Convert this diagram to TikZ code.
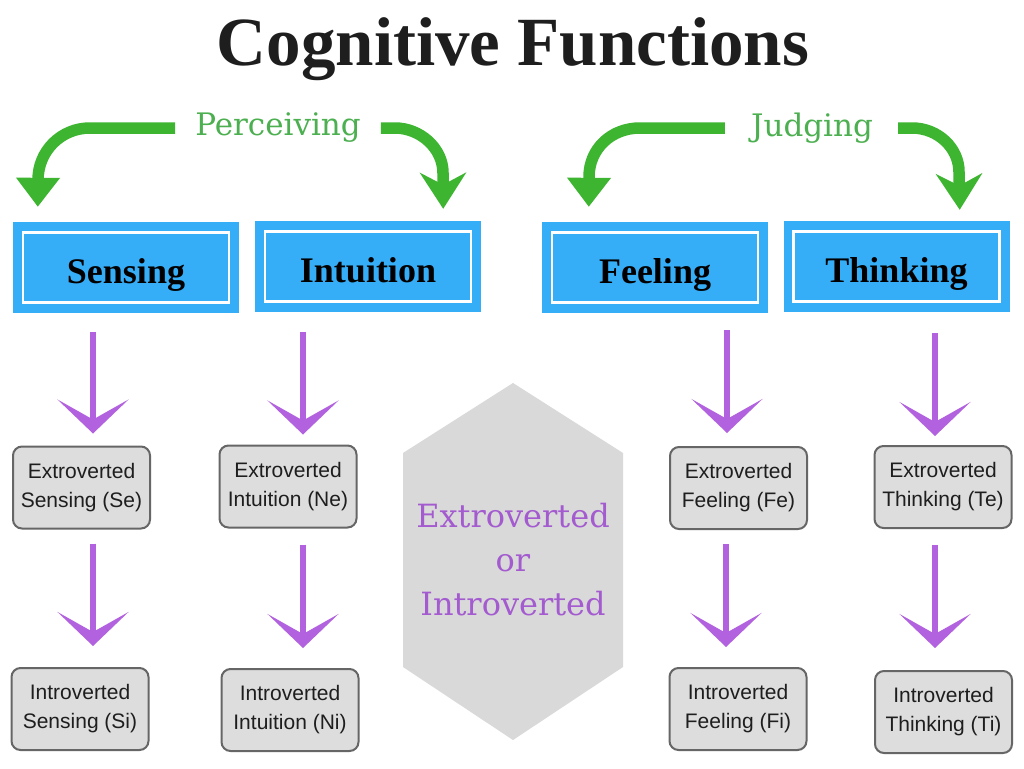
\documentclass[tikz,border=0pt]{standalone}
\usepackage{fontspec}
\setmainfont{Liberation Serif}
\newfontfamily\dejaserif{DejaVu Serif}
\newfontfamily\arialfont{Liberation Sans}
\usetikzlibrary{arrows.meta}

\definecolor{boxblue}{HTML}{36AEF7}
\definecolor{leafgreen}{HTML}{3DB531}
\definecolor{labelgreen}{HTML}{4CAF50}
\definecolor{lilac}{HTML}{B262DE}
\definecolor{lilactext}{HTML}{A35BCF}
\definecolor{boxgray}{HTML}{DDDDDD}
\definecolor{edgegray}{HTML}{666666}
\definecolor{hexgray}{HTML}{D9D9D9}
\definecolor{inkblack}{HTML}{1E1E1E}

\begin{document}
\begin{tikzpicture}[x=1pt,y=-1pt,
    kind/.style={fill=boxblue, minimum width=226pt, minimum height=91pt, inner sep=0pt,
        font=\fontsize{36}{40}\selectfont\bfseries, text=black, text height=32pt, text depth=0pt,
        path picture={\draw[white,line width=2.5pt] ([xshift=10pt,yshift=-10.5pt]path picture bounding box.north west) rectangle ([xshift=-10pt,yshift=10.5pt]path picture bounding box.south east);}},
    func/.style={draw=edgegray, line width=2pt, fill=boxgray, rounded corners=9pt,
        minimum width=137pt, minimum height=82pt, align=center, inner sep=0pt,
        font=\arialfont\fontsize{21}{29}\selectfont, text=inkblack},
    group/.style={text=labelgreen, font=\dejaserif\fontsize{31}{36}\selectfont, inner sep=0pt},
    greenarrow/.style={draw=leafgreen, line width=11.5pt, -{Triangle[length=29pt,width=42pt]}},
    greenhook/.style={draw=leafgreen, line width=11.5pt, -{Stealth[length=36pt,width=46pt,inset=12pt]}},
    purplearrow/.style={draw=lilac, line width=6pt, -{Stealth[length=34pt,width=71pt,inset=20pt]}}]

\fill[white] (0,0) rectangle (1024,768);
\useasboundingbox (0,0) rectangle (1024,768);

% title
\node[font=\fontsize{69}{80}\selectfont\bfseries, text=inkblack, anchor=base, inner sep=0pt] (title) at (513,65) {Cognitive Functions};

% groups
\node[group] (perc) at (278,128) {Perceiving};
\node[group] (judg) at (812,128) {Judging};

% functions
\node[kind] (sen) at (126,267.5) {Sensing};
\node[kind] (int) at (368,266.5) {Intuition};
\node[kind] (fee) at (655,267.5) {Feeling};
\node[kind] (thi) at (896.5,266.5) {Thinking};

% attitudes
\node[func] (se) at (81.5,487.5) {Extroverted\\Sensing (Se)};
\node[func] (ne) at (288,486.5) {Extroverted\\Intuition (Ne)};
\node[func] (fe) at (738.5,488) {Extroverted\\Feeling (Fe)};
\node[func] (te) at (943,487) {Extroverted\\Thinking (Te)};
\node[func] (si) at (80,709) {Introverted\\Sensing (Si)};
\node[func] (ni) at (290,710) {Introverted\\Intuition (Ni)};
\node[func] (fi) at (738,709) {Introverted\\Feeling (Fi)};
\node[func] (ti) at (943.5,712) {Introverted\\Thinking (Ti)};

% middle hexagon
\fill[hexgray] (513,383) -- (623,453) -- (623,667) -- (513,740) -- (403,667) -- (403,453) -- cycle;
\node[text=lilactext, font=\dejaserif\fontsize{32}{44}\selectfont, align=center, inner sep=0pt] (eoi) at (513,560) {Extroverted\\or\\Introverted};

% green arrows
\draw[greenarrow] ([xshift=-20pt]perc.west) -- (90,128) .. controls (61,128) and (38,151) .. (38,180) -- ([xshift=25pt,yshift=15pt]sen.north west);
\draw[greenhook] ([xshift=20pt]perc.east) -- (395,128) .. controls (420,128) and (443,148) .. (443,173) -- ([xshift=-38pt,yshift=12pt]int.north east);
\draw[greenarrow] ([xshift=-26pt]judg.west) -- (640,128) .. controls (611,128) and (589,149) .. (589,177) -- ([xshift=47pt,yshift=15pt]fee.north west);
\draw[greenhook] ([xshift=25pt]judg.east) -- (912,128) .. controls (938,128) and (959,148) .. (959,172) -- ([xshift=-50pt,yshift=11pt]thi.north east);

% purple arrows
\draw[purplearrow] ([xshift=-33pt,yshift=-19pt]sen.south) -- ([xshift=11.5pt,yshift=12pt]se.north);
\draw[purplearrow] ([xshift=-65pt,yshift=-20pt]int.south) -- ([xshift=15pt,yshift=10pt]ne.north);
\draw[purplearrow] ([xshift=72pt,yshift=-17pt]fee.south) -- ([xshift=-11.5pt,yshift=13pt]fe.north);
\draw[purplearrow] ([xshift=38.5pt,yshift=-21pt]thi.south) -- ([xshift=-8pt,yshift=9pt]te.north);
\draw[purplearrow] ([xshift=11.5pt,yshift=-14pt]se.south) -- ([xshift=13pt,yshift=21pt]si.north);
\draw[purplearrow] ([xshift=15pt,yshift=-16pt]ne.south) -- ([xshift=13pt,yshift=20pt]ni.north);
\draw[purplearrow] ([xshift=-12.5pt,yshift=-14pt]fe.south) -- ([xshift=-12pt,yshift=20pt]fi.north);
\draw[purplearrow] ([xshift=-8pt,yshift=-16pt]te.south) -- ([xshift=-8.5pt,yshift=22pt]ti.north);
\end{tikzpicture}
\end{document}
